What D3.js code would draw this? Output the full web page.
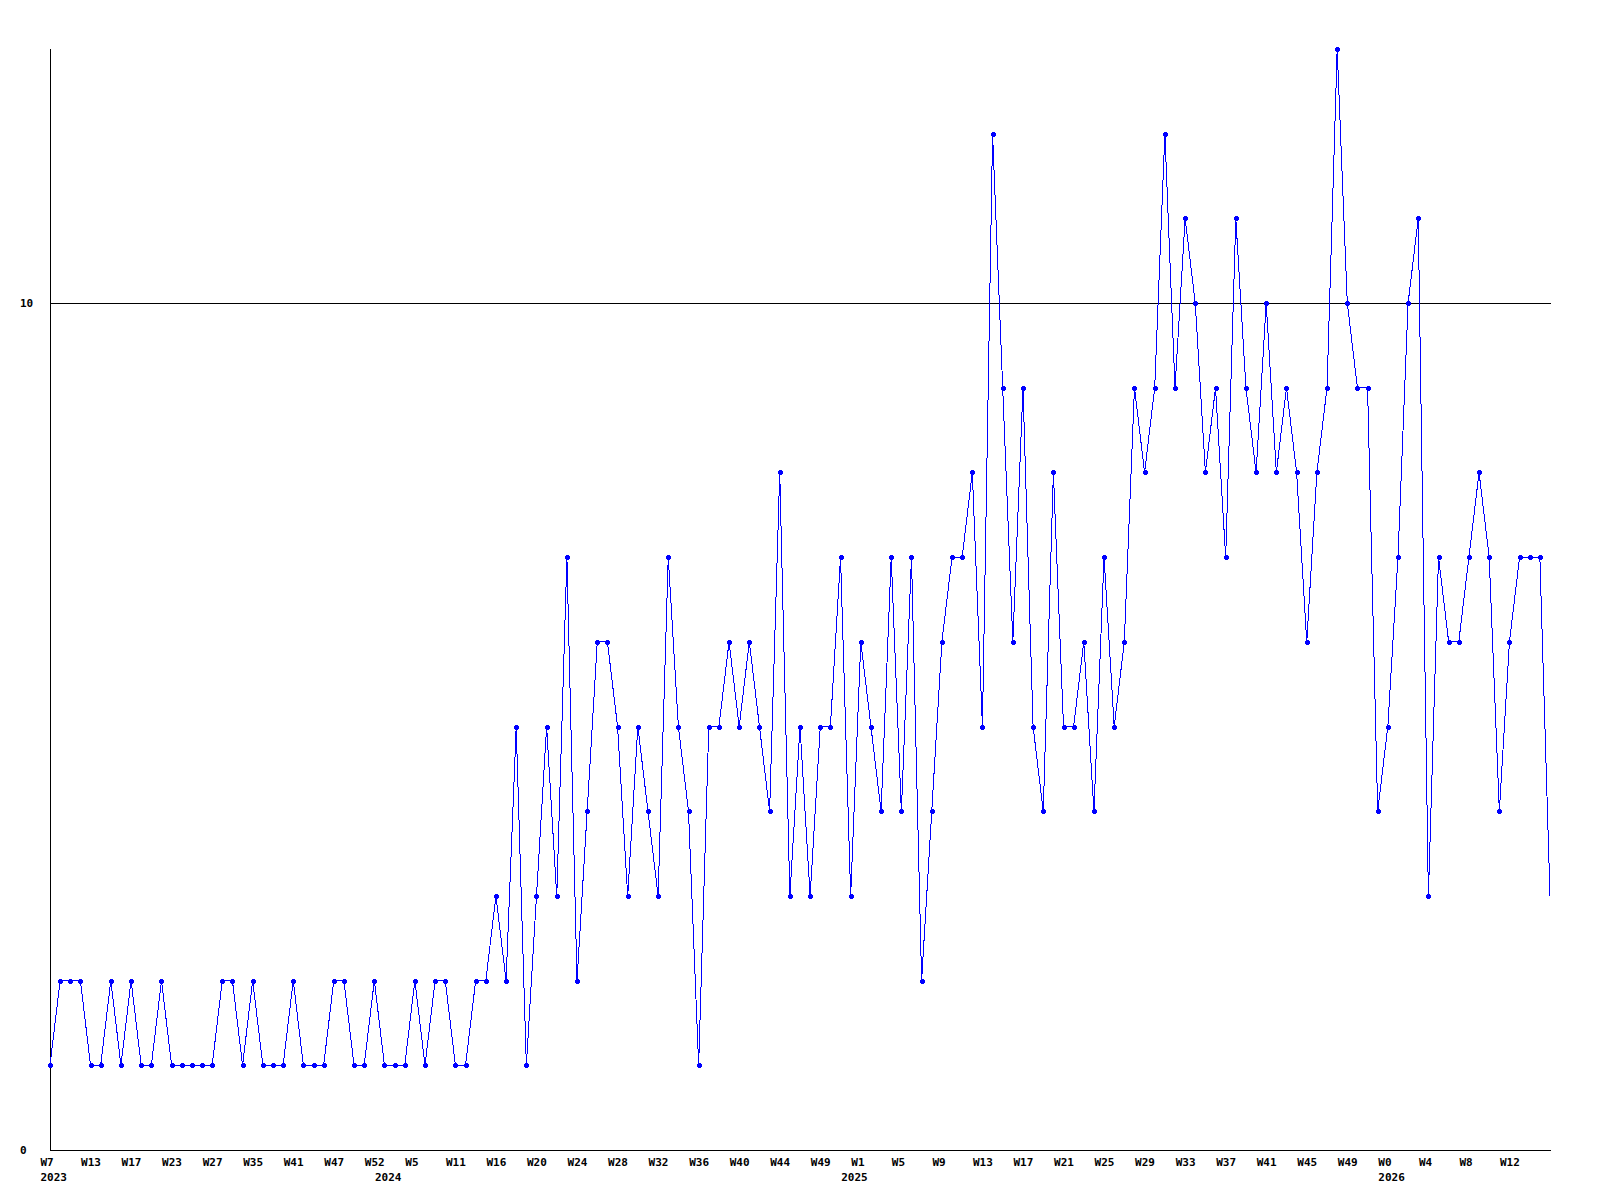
<!DOCTYPE html>
<html>
<head>
<meta charset="utf-8">
<script src="https://cdn.jsdelivr.net/npm/d3@7"></script>
<style>
  html, body { margin: 0; padding: 0; background: #fff; }
  svg { display: block; }
  text { font-family: "DejaVu Sans Mono", "Liberation Mono", monospace; font-weight: bold; font-size: 11px; fill: #000; }
</style>
</head>
<body>
<div id="chart"></div>
<script>
// Weekly values (one point per recorded week)
const values = [
  1,2,2,2,1,1,2,1,2,1, 1,2,1,1,1,1,1,2,2,1, 2,1,1,1,2,1,1,1,2,2,
  1,1,2,1,1,1,2,1,2,2, 1,1,2,2,3,2,5,1,3,
  5,3,7,2,4,6,6,5,3,5, 4,3,7,5,4,1,5,5,6,5, 6,5,4,8,3,5,3,5,5,7,
  3,6,5,4,7,4,7,2,4,6, 7,7,8,5,
  12,9,6,9,5,4,8,5,5,6, 4,7,5,6,9,8,9,12,9,11, 10,8,9,7,11,9,8,10,8,9,
  8,6,8,9,13,10,9,9,4,5, 7,10,11,3,7,6,6,7,8,7, 4,6,7,7,7,3
];
// Week tick labels, one every 4th point
const weekLabels = ["W7","W13","W17","W23","W27","W35","W41","W47","W52",
  "W5","W11","W16","W20","W24","W28","W32","W36","W40","W44","W49",
  "W1","W5","W9","W13","W17","W21","W25","W29","W33","W37","W41","W45","W49",
  "W0","W4","W8","W12"];
const weekStep = 4;
// Year labels and the point index where each year starts
const yearLabels = ["2023","2024","2025","2026"];
const yearStart = [0, 33, 79, 132];
const yTicks = [0, 10];
const yMax = 13;

(function () {
const W = 1600, H = 1200;
const pL = 50, pR = 1550, pT = 49, pB = 1150;

const svg = d3.select("#chart").append("svg").attr("width", W).attr("height", H);
svg.append("rect").attr("width", W).attr("height", H).attr("fill", "#fff");

const x = d3.scaleLinear().domain([0, values.length - 1]).range([pL, pR]);
const y = d3.scaleLinear().domain([0, yMax]).range([pB, pT]);

// Gridline at 10 and x axis line at 0
svg.append("g").selectAll("line").data(yTicks).join("line")
  .attr("x1", pL).attr("x2", pR + 1)
  .attr("y1", d => Math.round(y(d)) + 0.5).attr("y2", d => Math.round(y(d)) + 0.5)
  .attr("stroke", "#000").attr("stroke-width", 1).attr("shape-rendering", "crispEdges");

// Y axis vertical line
svg.append("line")
  .attr("x1", pL + 0.5).attr("x2", pL + 0.5)
  .attr("y1", pT).attr("y2", pB + 1)
  .attr("stroke", "#000").attr("shape-rendering", "crispEdges");

// Y axis labels
const yAxis = d3.axisLeft(y).tickValues(yTicks).tickSize(0).tickFormat(d3.format("d"));
const gy = svg.append("g").attr("transform", `translate(${pL},0)`).call(yAxis);
gy.select(".domain").remove();
gy.attr("font-family", null).attr("font-size", null);
gy.selectAll("text").attr("x", -30).attr("dy", "0.35em").attr("text-anchor", "start");

// X axis week labels
const weekIdx = weekLabels.map((_, i) => i * weekStep);
const xAxis = d3.axisBottom(x).tickValues(weekIdx).tickSize(0)
  .tickFormat((d, i) => weekLabels[i]);
const gx = svg.append("g").attr("transform", `translate(0,${pB})`).call(xAxis);
gx.select(".domain").remove();
gx.attr("font-family", null).attr("font-size", null);
gx.selectAll("text").attr("text-anchor", "start").attr("x", -10).attr("y", 16).attr("dy", 0);

// Year labels
const yearAxis = d3.axisBottom(x).tickValues(yearStart).tickSize(0)
  .tickFormat((d, i) => yearLabels[i]);
const gyr = svg.append("g").attr("transform", `translate(0,${pB})`).call(yearAxis);
gyr.select(".domain").remove();
gyr.attr("font-family", null).attr("font-size", null);
gyr.selectAll("text").attr("text-anchor", "start").attr("x", -10).attr("y", 31).attr("dy", 0);

// Line
const line = d3.line().x((d, i) => x(i)).y(d => y(d));
svg.append("path").datum(values)
  .attr("d", line).attr("fill", "none").attr("stroke", "#0000ff").attr("stroke-width", 1)
  .attr("shape-rendering", "crispEdges");

// Markers (last point sits on the plot edge and has none)
const mk = svg.append("g").attr("fill", "#0000ff");
const pts = values.slice(0, values.length - 1);
mk.selectAll("rect.h").data(pts).join("rect").attr("class", "h")
  .attr("x", (d, i) => Math.round(x(i)) - 2).attr("y", d => Math.round(y(d)) - 1)
  .attr("width", 5).attr("height", 3);
mk.selectAll("rect.v").data(pts).join("rect").attr("class", "v")
  .attr("x", (d, i) => Math.round(x(i)) - 1).attr("y", d => Math.round(y(d)) - 2)
  .attr("width", 3).attr("height", 5);
})();
</script>
</body>
</html>
